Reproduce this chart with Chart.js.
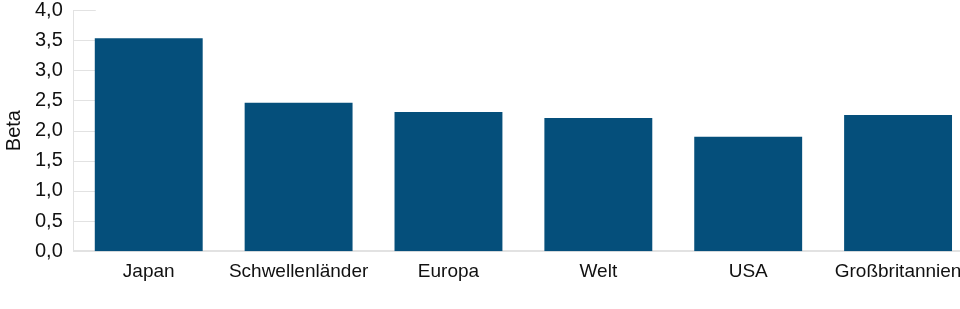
<!DOCTYPE html>
<html lang="de">
<head>
    <meta charset="UTF-8">
    <title>Beta</title>
    <script src="https://cdn.jsdelivr.net/npm/chart.js"></script>
    <style>
        html, body {
            margin: 0;
            padding: 0;
            background: #fff;
            overflow: hidden;
        }
        .chart-container {
            width: 974px;
            height: 324px;
            margin-top: -13px;
            margin-left: -1px;
        }
    </style>
</head>
<body>
    <div class="chart-container">
        <canvas id="betaChart"></canvas>
    </div>

    <script>
        const categories = ['Japan', 'Schwellenländer', 'Europa', 'Welt', 'USA', 'Großbritannien'];
        const betaValues = [3.53, 2.46, 2.31, 2.21, 1.90, 2.26];
        const yTicks = [0, 0.5, 1, 1.5, 2, 2.5, 3, 3.5, 4];

        // short grid stubs between the y axis and the first bar
        const gridStubs = {
            id: 'gridStubs',
            beforeDatasetsDraw(chart) {
                const ctx = chart.ctx;
                const y = chart.scales.y;
                const left = chart.chartArea.left;
                ctx.save();
                ctx.strokeStyle = '#e2e2e2';
                ctx.lineWidth = 1;
                yTicks.forEach(v => {
                    if (v === 0) return;
                    const py = Math.round(y.getPixelForValue(v)) + 0.5;
                    ctx.beginPath();
                    ctx.moveTo(left, py);
                    ctx.lineTo(left + 22, py);
                    ctx.stroke();
                });
                ctx.restore();
            }
        };

        const ctx = document.getElementById('betaChart').getContext('2d');
        new Chart(ctx, {
            type: 'bar',
            data: {
                labels: categories,
                datasets: [{
                    label: 'Beta',
                    data: betaValues,
                    backgroundColor: '#054f7b',
                    borderWidth: 0,
                    barPercentage: 0.72,
                    categoryPercentage: 1
                }]
            },
            plugins: [gridStubs],
            options: {
                responsive: true,
                maintainAspectRatio: false,
                animation: false,
                layout: {
                    padding: { top: 0, bottom: 19, left: 0, right: 0 }
                },
                plugins: {
                    legend: { display: false },
                    tooltip: { enabled: false }
                },
                scales: {
                    x: {
                        grid: { display: false, drawTicks: false },
                        border: { color: '#e2e2e2', width: 2 },
                        ticks: {
                            padding: 9,
                            color: '#111',
                            font: { family: 'Liberation Sans', size: 19 },
                            maxRotation: 0,
                            autoSkip: false
                        }
                    },
                    y: {
                        min: 0,
                        max: 4,
                        afterBuildTicks(scale) {
                            scale.ticks = yTicks.map(v => ({ value: v }));
                        },
                        grid: { display: false, drawTicks: false },
                        border: { color: '#e2e2e2', width: 1 },
                        title: {
                            display: true,
                            text: 'Beta',
                            color: '#111',
                            padding: { top: 5, bottom: 0 },
                            font: { family: 'Liberation Sans', size: 20, lineHeight: 1 }
                        },
                        ticks: {
                            padding: 11,
                            color: '#111',
                            font: { family: 'Liberation Sans', size: 20 },
                            callback: v => v.toFixed(1).replace('.', ',')
                        }
                    }
                }
            }
        });
    </script>
</body>
</html>
